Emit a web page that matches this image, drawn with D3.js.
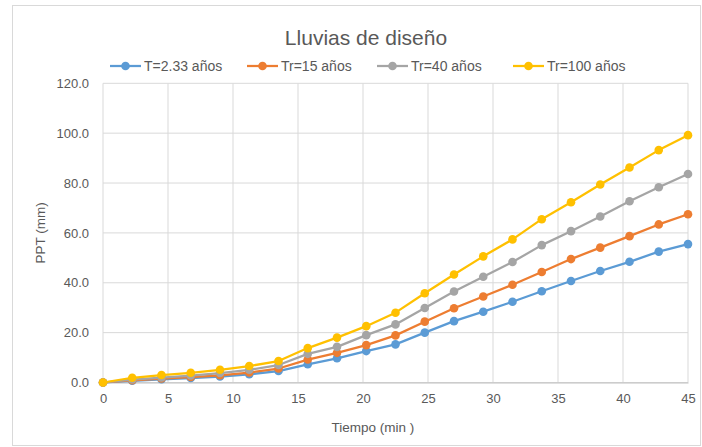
<!DOCTYPE html>
<html>
<head>
<meta charset="utf-8">
<script src="https://cdn.jsdelivr.net/npm/d3@7"></script>
<style>
  html, body { margin: 0; padding: 0; background: #fff; }
  svg { display: block; }
  text { font-family: "Liberation Sans", Arial, sans-serif; fill: #595959; }
</style>
</head>
<body>
<svg id="chart" width="702" height="447"></svg>
<script>
// ---- data ----
const tiempo = [0, 2.25, 4.5, 6.75, 9, 11.25, 13.5, 15.75, 18, 20.25, 22.5, 24.75, 27, 29.25, 31.5, 33.75, 36, 38.25, 40.5, 42.75, 45];
const seriesNames = ["T=2.33 años", "Tr=15 años", "Tr=40 años", "Tr=100 años"];
const t233 = [0, 0.7, 1.3, 1.8, 2.4, 3.3, 4.6, 7.3, 9.7, 12.6, 15.3, 20.0, 24.6, 28.4, 32.4, 36.6, 40.7, 44.7, 48.4, 52.5, 55.5];
const tr15 = [0, 0.9, 1.6, 2.2, 2.9, 4.0, 5.6, 9.2, 11.9, 15.0, 18.9, 24.4, 29.8, 34.5, 39.2, 44.3, 49.5, 54.1, 58.7, 63.4, 67.5];
const tr40 = [0, 1.2, 2.0, 2.8, 3.8, 5.1, 7.0, 11.5, 14.3, 19.0, 23.3, 29.9, 36.5, 42.4, 48.3, 55.1, 60.7, 66.6, 72.7, 78.3, 83.6];
const tr100 = [0, 1.9, 3.0, 3.9, 5.1, 6.6, 8.6, 13.8, 18.0, 22.6, 28.0, 35.8, 43.3, 50.6, 57.4, 65.5, 72.3, 79.4, 86.2, 93.2, 99.2];
const xTicks = [0, 5, 10, 15, 20, 25, 30, 35, 40, 45];
const yTicks = [0, 20, 40, 60, 80, 100, 120];
const colors = ["#5B9BD5", "#ED7D31", "#A5A5A5", "#FFC000"];

const seriesValues = [t233, tr15, tr40, tr100];

// ---- layout ----
const svg = d3.select("#chart");
const mLeft = 103, mRight = 688, mTop = 83.3, mBottom = 382.5;

svg.append("rect")
  .attr("x", 12.5).attr("y", 5.5).attr("width", 688).attr("height", 440)
  .attr("fill", "#fff").attr("stroke", "#d9d9d9").attr("stroke-width", 1);

const x = d3.scaleLinear().domain([0, 45]).range([mLeft, mRight]);
const y = d3.scaleLinear().domain([0, 120]).range([mBottom, mTop]);

// gridlines
svg.append("g").selectAll("line").data(yTicks).join("line")
  .attr("x1", mLeft).attr("x2", mRight)
  .attr("y1", d => y(d)).attr("y2", d => y(d))
  .attr("stroke", "#d9d9d9").attr("stroke-width", 1);
svg.append("g").selectAll("line").data(xTicks).join("line")
  .attr("y1", mTop).attr("y2", mBottom)
  .attr("x1", d => x(d)).attr("x2", d => x(d))
  .attr("stroke", "#d9d9d9").attr("stroke-width", 1);

// axes
const xAxis = svg.append("g").attr("transform", `translate(0,${mBottom})`)
  .call(d3.axisBottom(x).tickValues(xTicks).tickSize(0).tickPadding(11).tickFormat(d3.format("d")));
xAxis.select(".domain").attr("stroke", "#bfbfbf");
xAxis.selectAll("text").style("font-size", "13px").attr("fill", "#595959");

const yAxis = svg.append("g").attr("transform", `translate(${mLeft},0)`)
  .call(d3.axisLeft(y).tickValues(yTicks).tickSize(0).tickPadding(14).tickFormat(d3.format(".1f")));
yAxis.select(".domain").remove();
yAxis.selectAll("text").style("font-size", "13px").attr("fill", "#595959");

// axis titles
svg.append("text").attr("x", 373).attr("y", 432)
  .attr("text-anchor", "middle").style("font-size", "13.5px").text("Tiempo (min )");
svg.append("text")
  .attr("transform", `translate(45,${(mTop + mBottom) / 2}) rotate(-90)`)
  .attr("text-anchor", "middle").style("font-size", "13.5px").text("PPT (mm)");

// title
svg.append("text").attr("x", 366).attr("y", 45)
  .attr("text-anchor", "middle").style("font-size", "21px").text("Lluvias de diseño");

// lines
const line = d3.line().x((d, i) => x(tiempo[i])).y(d => y(d));
seriesValues.forEach((vals, s) => {
  const g = svg.append("g");
  g.append("path").datum(vals).attr("d", line)
    .attr("fill", "none").attr("stroke", colors[s]).attr("stroke-width", 2.25)
    .attr("stroke-linejoin", "round");
  g.selectAll("circle").data(vals).join("circle")
    .attr("cx", (d, i) => x(tiempo[i])).attr("cy", d => y(d)).attr("r", 4.3)
    .attr("fill", colors[s]);
});

// legend
const legendX = [110, 247, 377, 513];
const legend = svg.append("g");
seriesNames.forEach((name, s) => {
  const lx = legendX[s], ly = 66;
  legend.append("line").attr("x1", lx).attr("x2", lx + 31).attr("y1", ly).attr("y2", ly)
    .attr("stroke", colors[s]).attr("stroke-width", 2.25);
  legend.append("circle").attr("cx", lx + 15.5).attr("cy", ly).attr("r", 4.3).attr("fill", colors[s]);
  legend.append("text").attr("x", lx + 34).attr("y", ly + 5)
    .style("font-size", "14px").text(name);
});
</script>
</body>
</html>
